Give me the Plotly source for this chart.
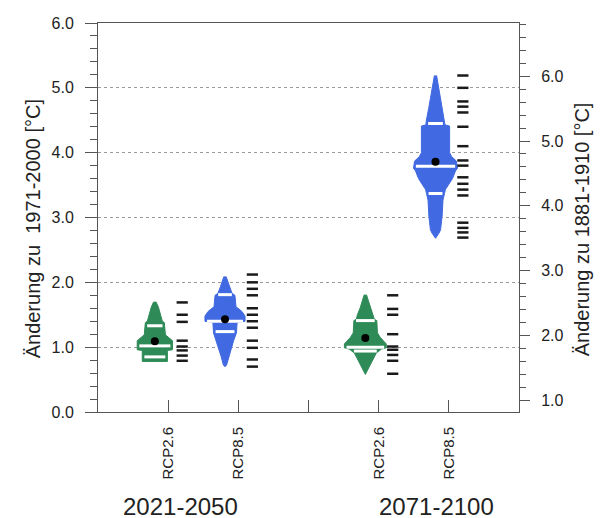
import numpy as np
import plotly.graph_objects as go

# ---------------- data ----------------
TICK_POS = [1, 2, 3, 4, 5]
TICK_LABELS = ["RCP2.6", "RCP8.5", "", "RCP2.6", "RCP8.5"]
PERIODS = ["2021-2050", "2071-2100"]

# group positions (category centre) and scenario
GROUP_POS = [1, 2, 4, 5]
GROUP_SCEN = ["RCP2.6", "RCP8.5", "RCP2.6", "RCP8.5"]

# distribution profiles: levels (degC) and relative density width (0..1)
g1_levels = [1.70, 1.62, 1.40, 1.38, 1.19, 1.15, 1.10, 0.96, 0.95, 0.78]
g1_width = [0.05, 0.16, 0.34, 0.43, 0.48, 0.64, 0.80, 0.80, 0.57, 0.57]
b1_levels = [2.09, 1.94, 1.83, 1.80, 1.62, 1.60, 1.55, 1.48, 1.40, 1.38, 1.22, 1.10, 1.00, 0.86, 0.72, 0.70]
b1_width = [0.05, 0.20, 0.32, 0.45, 0.50, 0.59, 0.77, 0.91, 0.91, 0.55, 0.52, 0.39, 0.30, 0.18, 0.07, 0.0]
g2_levels = [1.81, 1.61, 1.50, 1.43, 1.41, 1.22, 1.15, 1.05, 0.99, 0.97, 0.91, 0.76, 0.58]
g2_width = [0.05, 0.23, 0.36, 0.41, 0.52, 0.55, 0.68, 0.95, 0.95, 0.73, 0.50, 0.27, 0.0]
b2_levels = [5.19, 5.00, 4.70, 4.47, 4.43, 4.41, 4.00, 3.94, 3.87, 3.76, 3.72, 3.60, 3.53, 3.43, 3.37, 3.27, 3.02, 2.81, 2.76, 2.68]
b2_width = [0.05, 0.15, 0.30, 0.43, 0.43, 0.64, 0.64, 0.73, 0.95, 1.00, 0.91, 0.77, 0.64, 0.45, 0.41, 0.34, 0.30, 0.23, 0.16, 0.0]

# percentiles (15, 50, 85) and mean
g1_pct = [0.85, 1.02, 1.33]
b1_pct = [1.24, 1.40, 1.81]
g2_pct = [0.94, 1.00, 1.41]
b2_pct = [3.37, 3.79, 4.45]
means = [1.09, 1.43, 1.14, 3.86]

# individual ensemble members
g1_members = [1.69, 1.50, 1.39, 1.10, 1.01, 0.95, 0.87, 0.79]
b1_members = [2.12, 2.00, 1.90, 1.80, 1.60, 1.50, 1.40, 1.30, 1.10, 0.99, 0.81, 0.70]
g2_members = [1.80, 1.59, 1.50, 1.20, 1.01, 0.96, 0.88, 0.79, 0.59]
b2_members = [5.19, 5.00, 4.79, 4.71, 4.62, 4.40, 4.10, 3.88, 3.80, 3.62, 3.52, 3.43, 3.34,
              2.92, 2.84, 2.77, 2.69]

BASE_OFFSET = 0.82  # 1881-1910 vs 1971-2000

# ---------------- styling ----------------
COLORS = {"RCP2.6": "#2E8B57", "RCP8.5": "#4169E1"}
HALF_MAX = 0.314
VIOLIN_SHIFT = -0.19
MEMBER_SHIFT = 0.20
FONT = "Liberation Sans, Arial, Helvetica, sans-serif"
TXT = "#222222"
AX = "#555555"

groups = [
    (g1_levels, g1_width, g1_pct, g1_members),
    (b1_levels, b1_width, b1_pct, b1_members),
    (g2_levels, g2_width, g2_pct, g2_members),
    (b2_levels, b2_width, b2_pct, b2_members),
]

fig = go.Figure()

for i, (lev, wid, pct, mem) in enumerate(groups):
    c = GROUP_POS[i] + VIOLIN_SHIFT
    col = COLORS[GROUP_SCEN[i]]
    lev = np.array(lev)
    hw = np.array(wid) * HALF_MAX
    xs = np.concatenate([c + hw, (c - hw)[::-1]])
    ys = np.concatenate([lev, lev[::-1]])
    fig.add_trace(go.Scatter(x=xs, y=ys, mode="lines", fill="toself", fillcolor=col,
                             line=dict(color=col, width=1), hoverinfo="skip", showlegend=False))
    # percentile lines
    order = np.argsort(lev)
    for p in pct:
        w = np.interp(p, lev[order], hw[order]) - 0.03
        fig.add_trace(go.Scatter(x=[c - w, c + w], y=[p, p], mode="lines",
                                 line=dict(color="white", width=3), hoverinfo="skip", showlegend=False))
    # members
    m = GROUP_POS[i] + MEMBER_SHIFT
    fig.add_trace(go.Scatter(x=[m] * len(mem), y=mem, mode="markers",
                             marker=dict(symbol="line-ew", size=8, line=dict(color="#1a1a1a", width=2.5)),
                             hoverinfo="skip", showlegend=False))
    # mean
    fig.add_trace(go.Scatter(x=[c], y=[means[i]], mode="markers",
                             marker=dict(color="black", size=8), hoverinfo="skip", showlegend=False))

# dummy trace on the secondary axis
fig.add_trace(go.Scatter(x=[0], y=[1 + BASE_OFFSET], yaxis="y2", mode="markers",
                         marker=dict(opacity=0), hoverinfo="skip", showlegend=False))

fig.update_layout(
    width=602, height=510,
    margin=dict(l=90, r=91, t=15, b=106, autoexpand=False),
    plot_bgcolor="white", paper_bgcolor="white",
    font=dict(family=FONT, color=TXT),
    xaxis=dict(range=[0, 6], tickvals=TICK_POS, ticktext=TICK_LABELS, tickangle=-90,
               ticks="inside", ticklen=12, tickcolor=AX, showline=True, linecolor=AX, mirror=True,
               showgrid=False, zeroline=False, tickfont=dict(size=15, color=TXT),
               ticklabelstandoff=8),
    yaxis=dict(range=[0, 6], tickvals=[0, 1, 2, 3, 4, 5, 6], tickformat=".1f",
               ticks="outside", ticklen=12, tickcolor=AX, showline=True, linecolor=AX,
               showgrid=True, gridcolor="#9a9a9a", griddash="dot", gridwidth=1, zeroline=False,
               minor=dict(dtick=0.2, tick0=0, ticks="outside", ticklen=7, tickcolor=AX, showgrid=False),
               tickfont=dict(size=16, color=TXT), ticklabelstandoff=8),
    yaxis2=dict(range=[BASE_OFFSET, 6 + BASE_OFFSET], overlaying="y", side="right",
                tickvals=[1, 2, 3, 4, 5, 6], tickformat=".1f", ticks="outside", ticklen=10,
                tickcolor=AX, showline=True, linecolor=AX, showgrid=False, zeroline=False,
                minor=dict(dtick=0.2, tick0=0, ticks="outside", ticklen=6, tickcolor=AX, showgrid=False),
                tickfont=dict(size=16, color=TXT), ticklabelstandoff=8),
)

ann_x = [1.17, 4.83]
for px, label in zip(ann_x, PERIODS):
    fig.add_annotation(x=px, xref="x", y=-0.242, yref="paper", text=label, showarrow=False,
                       font=dict(size=24, color=TXT), xanchor="center", yanchor="middle")

fig.add_annotation(x=-0.154, xref="paper", y=0.47, yref="paper", text="Änderung zu  1971-2000 [°C]",
                   textangle=-90, showarrow=False, font=dict(size=20, color=TXT),
                   xanchor="center", yanchor="middle")
fig.add_annotation(x=1.150, xref="paper", y=0.47, yref="paper", text="Änderung zu 1881-1910 [°C]",
                   textangle=-90, showarrow=False, font=dict(size=20, color=TXT),
                   xanchor="center", yanchor="middle")

fig.write_html("out.html")
